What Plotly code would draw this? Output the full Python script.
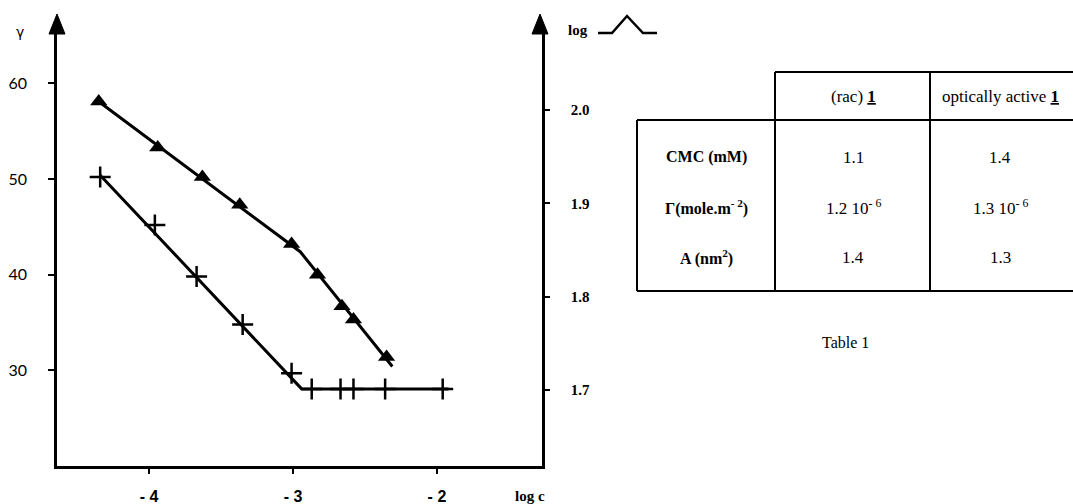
import plotly.graph_objects as go

W, H = 1073, 504

# ---- data ----
tri_logc = [-4.35, -3.94, -3.63, -3.37, -3.01, -2.83, -2.66, -2.58, -2.35]
tri_gamma = [58.1, 53.3, 50.2, 47.3, 43.2, 40.0, 36.7, 35.3, 31.4]
tri_fit_logc = [-4.36, -2.95, -2.31]
tri_fit_gamma = [58.2, 42.4, 30.4]

crs_logc = [-4.34, -3.96, -3.67, -3.35, -3.01, -2.87, -2.67, -2.58, -2.36, -1.96]
crs_gamma = [50.2, 45.2, 39.8, 34.8, 29.7, 28.06, 28.06, 28.06, 28.06, 28.06]
crs_fit_logc = [-4.34, -2.94, -1.92]
crs_fit_gamma = [50.4, 28.06, 28.06]

x_ticks = [-4, -3, -2]
x_ticktext = ["- 4", "- 3", "- 2"]
y_ticks = [30, 40, 50, 60]
y2_ticks = [1.7, 1.8, 1.9, 2.0]
y2_ticktext = ["1.7", "1.8", "1.9", "2.0"]

table_cols = ["(rac) <u><b>1</b></u>", "optically active <u><b>1</b></u>"]
table_rows = ["CMC (mM)", "\u0393(mole.m<sup>- 2</sup>)", "A (nm<sup>2</sup>)"]
table_rac = ["1.1", "1.2 10<sup>- 6</sup>", "1.4"]
table_active = ["1.4", "1.3 10<sup>- 6</sup>", "1.3"]


def X(px):
    return px / W


def Y(py):
    return 1 - py / H


fig = go.Figure()

fig.add_trace(go.Scatter(x=tri_fit_logc, y=tri_fit_gamma, mode="lines",
                         line=dict(color="black", width=3), showlegend=False))
fig.add_trace(go.Scatter(x=crs_fit_logc, y=crs_fit_gamma, mode="lines",
                         line=dict(color="black", width=3), showlegend=False))
fig.add_trace(go.Scatter(x=tri_logc, y=tri_gamma, mode="markers",
                         marker=dict(symbol="triangle-up", size=15, color="black"),
                         showlegend=False))
fig.add_trace(go.Scatter(x=crs_logc, y=crs_gamma, mode="markers",
                         marker=dict(symbol="cross-thin", size=15, color="black",
                                     line=dict(color="black", width=2.5)),
                         showlegend=False))
# invisible trace to activate right axis
fig.add_trace(go.Scatter(x=[-3], y=[1.8], yaxis="y2", mode="markers",
                         marker=dict(opacity=0), showlegend=False, hoverinfo="skip"))

x_left, x_right = 57, 542
y_bottom, y_top = 466, 30
gamma_per_px = 1 / 9.567
y_range = [20, 20 + (y_bottom - y_top) * gamma_per_px]
y2_px = 0.1 / 93.33
y2_range = [1.7 - (y_bottom - 390) * y2_px, 2.0 + (110 - y_top) * y2_px]

fig.update_layout(
    width=W, height=H,
    margin=dict(l=0, r=0, t=0, b=0, autoexpand=False),
    paper_bgcolor="white", plot_bgcolor="white",
    xaxis=dict(domain=[X(x_left), X(x_right)], range=[-4.64, -1.27],
               tickvals=x_ticks, ticktext=x_ticktext, automargin=False,
               showline=True, linecolor="black", linewidth=2.5,
               ticks="outside", ticklen=5, tickwidth=2, tickcolor="black",
               showgrid=False, zeroline=False, ticklabelstandoff=9,
               tickfont=dict(family="Liberation Sans", size=16, color="black",
                             weight="bold")),
    yaxis=dict(domain=[Y(y_bottom), Y(y_top)], range=y_range,
               tickvals=y_ticks, automargin=False,
               showline=True, linecolor="black", linewidth=2.5,
               ticks="outside", ticklen=6, tickwidth=2, tickcolor="black",
               showgrid=False, zeroline=False, ticklabelstandoff=18,
               tickfont=dict(family="Lato", size=16, color="black")),
    yaxis2=dict(overlaying="y", side="right", anchor="x", range=y2_range,
                tickvals=y2_ticks, ticktext=y2_ticktext, automargin=False,
                showline=True, linecolor="black", linewidth=2.5,
                ticks="outside", ticklen=5, tickwidth=2, tickcolor="black",
                showgrid=False, zeroline=False, ticklabelstandoff=18,
                tickfont=dict(family="Liberation Serif", size=15, color="black",
                              weight="bold")),
)

shapes = []
# axis arrows
for ax_x in (57, 540):
    shapes.append(dict(type="path", xref="paper", yref="paper",
                       path=f"M {X(ax_x-8)},{Y(34)} L {X(ax_x)},{Y(14)} L {X(ax_x+8)},{Y(34)} Z",
                       fillcolor="black", line=dict(color="black", width=1)))
# wave symbol after "log"
shapes.append(dict(type="path", xref="paper", yref="paper",
                   path=f"M {X(598)},{Y(33)} L {X(612)},{Y(33)} L {X(627)},{Y(16)} L {X(643)},{Y(33)} L {X(657)},{Y(33)}",
                   line=dict(color="black", width=2.5)))
# table lines
tl = dict(color="black", width=2)
def hline(x0, x1, y):
    shapes.append(dict(type="line", xref="paper", yref="paper",
                       x0=X(x0), x1=X(x1), y0=Y(y), y1=Y(y), line=tl))
def vline(x, y0, y1):
    shapes.append(dict(type="line", xref="paper", yref="paper",
                       x0=X(x), x1=X(x), y0=Y(y0), y1=Y(y1), line=tl))
hline(775, 1073, 72)
hline(637, 1073, 120)
hline(637, 1073, 291)
vline(637, 120, 291)
vline(775, 72, 291)
vline(930, 72, 291)
fig.update_layout(shapes=shapes)

ann = []
def text(px, py, s, family="Liberation Serif", size=14, weight="normal", xanchor="center"):
    ann.append(dict(x=X(px), y=Y(py), xref="paper", yref="paper", text=s,
                    showarrow=False, xanchor=xanchor, yanchor="middle",
                    font=dict(family=family, size=size, color="black", weight=weight)))

text(20, 32, "\u03b3", family="DejaVu Sans", size=14)
text(578, 30, "log", size=15, weight="bold")
text(530, 496, "log c", size=15, weight="bold")

col_x = [853, 1000]
for cx, ct in zip(col_x, table_cols):
    text(cx, 96, ct, size=17)
row_y = [157, 207, 257]
for ry, rl, a, b in zip(row_y, table_rows, table_rac, table_active):
    text(706, ry, rl, size=16, weight="bold")
    text(853, ry, a, size=17)
    text(1000, ry, b, size=17)
text(845, 342, "Table 1", size=16)

fig.update_layout(annotations=ann)
fig.write_html("out.html", config={"displayModeBar": False},
               post_script="document.body.style.margin='0';document.body.style.overflow='hidden';")
